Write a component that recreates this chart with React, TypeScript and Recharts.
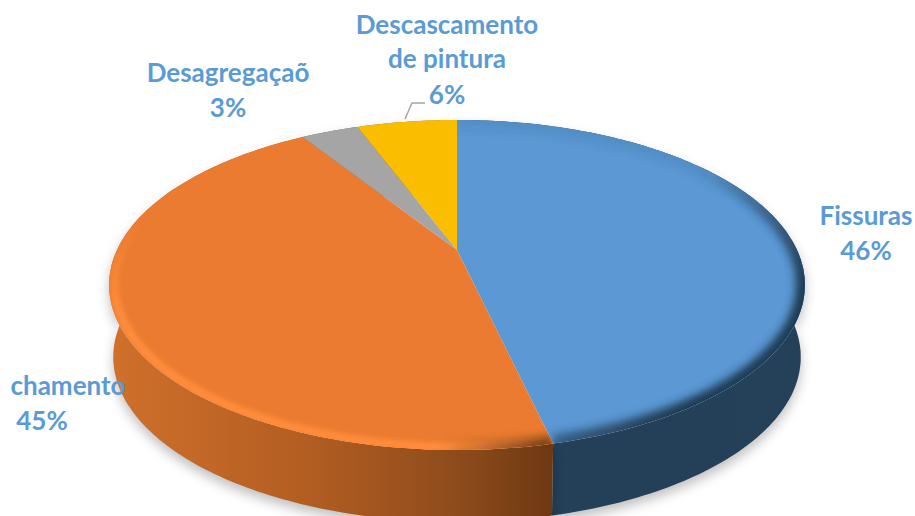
import { Pie, PieChart } from "recharts"

const categories = ["Fissuras", "chamento", "Desagregaçaõ", "Descascamento de pintura"]
const values = [46.4, 44.6, 3.3, 5.7]
const colors = ["#5b98d4", "#ea7b30", "#a5a5a5", "#fbbd00"]
const wallFills = ["url(#wallBlue)", "url(#wallOrange)", "#6b6b6b", "#a37b00"]

const chartData = categories.map((name, i) => ({ name, value: values[i] }))
const total = values.reduce((a, b) => a + b, 0)

// label layout: text lines, line x, percent x, first baseline
const labelLines = [["Fissuras"], ["chamento"], ["Desagregaçaõ"], ["Descascamento", "de pintura"]]
const labelX = [866, 68, 228, 447]
const percentX = [866, 42, 228, 447]
const labelY = [225, 395, 82, 34]

// the tilted disc is a circle seen in perspective
const FLATTEN = 0.4635
const PERSPECTIVE = 0.212
const DEPTH = 72
const BOTTOM_SCALE = 0.988

function project(cx: number, cy: number, r: number, deg: number) {
  const a = (deg * Math.PI) / 180
  const u = Math.cos(a)
  const v = Math.sin(a)
  const w = 1 + PERSPECTIVE * v
  return [cx + (r * u) / w, cy - (r * FLATTEN * v) / w]
}

function arcPoints(cx: number, cy: number, r: number, start: number, end: number) {
  const n = Math.max(2, Math.ceil(Math.abs(end - start)))
  const pts: number[][] = []
  for (let i = 0; i <= n; i++) pts.push(project(cx, cy, r, start + ((end - start) * i) / n))
  return pts
}

const toPath = (pts: number[][]) => pts.map((p, i) => `${i ? "L" : "M"}${p[0].toFixed(1)} ${p[1].toFixed(1)}`).join(" ")

function WallShape(props: any) {
  const { cx, cy, outerRadius, startAngle, endAngle, index } = props
  const upper = arcPoints(cx, cy, outerRadius, startAngle, endAngle)
  const lower = upper.map((p) => [cx + (p[0] - cx) * BOTTOM_SCALE, p[1] + DEPTH]).reverse()
  const d = toPath(upper.concat(lower)) + " Z"
  return (
    <g>
      <path d={d} fill="#000" fillOpacity={0.25} filter="url(#softShadow)" transform="translate(0 6)" />
      <path d={d} fill={wallFills[index]} />
    </g>
  )
}

function TopShape(props: any) {
  const { cx, cy, outerRadius, startAngle, endAngle, index } = props
  const arc = arcPoints(cx, cy, outerRadius, startAngle, endAngle)
  const inner = arcPoints(cx, cy, outerRadius * 0.985, startAngle, endAngle)
  const d = `M${cx} ${cy} ` + toPath(arc).replace("M", "L") + " Z"
  return (
    <g>
      <clipPath id={`face${index}`}>
        <path d={d} />
      </clipPath>
      <path d={d} fill={colors[index]} />
      <g clipPath={`url(#face${index})`}>
        {index === 0 && (
          <path d={toPath(arc)} fill="none" stroke="url(#rimBlue)" strokeWidth={18} filter="url(#blur4)" />
        )}
        {index === 1 && (
          <>
            <path d={toPath(inner)} fill="none" stroke="url(#rimOrange)" strokeWidth={9} filter="url(#blur2)" />
            <path d={toPath(arc)} fill="none" stroke="url(#rimOrangeDark)" strokeWidth={16} filter="url(#blur4)" />
          </>
        )}
      </g>
    </g>
  )
}

function renderLabel(props: any) {
  const { index, value } = props
  const lines = labelLines[index]
  const y = labelY[index]
  const style = { fontFamily: "Lato, sans-serif", fontWeight: 700, fontSize: 26, fill: "#5b9bd5" }
  return (
    <g key={index}>
      {lines.map((line, i) => (
        <text key={line} x={labelX[index]} y={y + i * 34} textAnchor="middle" style={style}>
          {line}
        </text>
      ))}
      <text x={percentX[index]} y={y + lines.length * 35} textAnchor="middle" style={style}>
        {Math.round((value / total) * 100)}%
      </text>
      {index === 3 && <polyline points="425,103 412,103 405,119" fill="none" stroke="#a6a6a6" strokeWidth={1.5} />}
    </g>
  )
}

export default function App() {
  return (
    <div style={{ position: "absolute", left: 0, top: 0, width: 915, height: 516, overflow: "hidden", background: "#fff" }}>
      <PieChart width={915} height={516} margin={{ top: 0, right: 0, bottom: 0, left: 0 }}>
        <defs>
          <linearGradient id="wallBlue" gradientUnits="userSpaceOnUse" x1="555" y1="0" x2="800" y2="0">
            <stop offset="0" stopColor="#234058" />
            <stop offset="1" stopColor="#254059" />
          </linearGradient>
          <linearGradient id="wallOrange" gradientUnits="userSpaceOnUse" x1="112" y1="0" x2="555" y2="0">
            <stop offset="0" stopColor="#cf702b" />
            <stop offset="0.45" stopColor="#b25d22" />
            <stop offset="0.8" stopColor="#8b4a1b" />
            <stop offset="1" stopColor="#6c3812" />
          </linearGradient>
          <linearGradient id="rimBlue" gradientUnits="userSpaceOnUse" x1="680" y1="190" x2="790" y2="300">
            <stop offset="0" stopColor="#1f3a52" stopOpacity={0.1} />
            <stop offset="1" stopColor="#1f3a52" stopOpacity={1} />
          </linearGradient>
          <linearGradient id="rimOrange" gradientUnits="userSpaceOnUse" x1="0" y1="220" x2="0" y2="310">
            <stop offset="0" stopColor="#ff8c3a" stopOpacity={0} />
            <stop offset="1" stopColor="#ff8c3a" stopOpacity={1} />
          </linearGradient>
          <linearGradient id="rimOrangeDark" gradientUnits="userSpaceOnUse" x1="440" y1="0" x2="555" y2="0">
            <stop offset="0" stopColor="#6c3812" stopOpacity={0} />
            <stop offset="1" stopColor="#6c3812" stopOpacity={1} />
          </linearGradient>
          <filter id="softShadow" filterUnits="userSpaceOnUse" x="0" y="0" width="915" height="560">
            <feGaussianBlur stdDeviation="6" />
          </filter>
          <filter id="blur4" filterUnits="userSpaceOnUse" x="0" y="0" width="915" height="560">
            <feGaussianBlur stdDeviation="4" />
          </filter>
          <filter id="blur2" filterUnits="userSpaceOnUse" x="0" y="0" width="915" height="560">
            <feGaussianBlur stdDeviation="2.2" />
          </filter>
        </defs>
        <Pie
          data={chartData}
          dataKey="value"
          cx={457}
          cy={250}
          outerRadius={340}
          startAngle={90}
          endAngle={-270}
          shape={WallShape}
          isAnimationActive={false}
        />
        <Pie
          data={chartData}
          dataKey="value"
          cx={457}
          cy={250}
          outerRadius={340}
          startAngle={90}
          endAngle={-270}
          shape={TopShape}
          label={renderLabel}
          labelLine={false}
          isAnimationActive={false}
        />
      </PieChart>
    </div>
  )
}
